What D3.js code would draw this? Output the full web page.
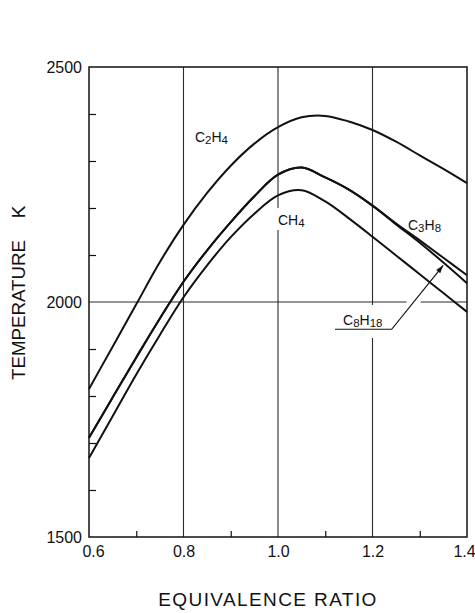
<!DOCTYPE html>
<html>
<head>
<meta charset="utf-8">
<script src="https://cdn.jsdelivr.net/npm/d3@7"></script>
<style>
  html, body { margin: 0; padding: 0; background: #fff; }
  svg { display: block; font-family: "Liberation Sans", Arial, sans-serif; }
</style>
</head>
<body>
<svg id="chart" width="475" height="613"></svg>
<script>
// Equivalence ratio sample points shared by every fuel curve
const phi = [0.60, 0.65, 0.70, 0.75, 0.80, 0.85, 0.90, 0.95, 1.00,
             1.05, 1.10, 1.15, 1.20, 1.25, 1.30, 1.35, 1.40];

// Adiabatic flame temperature (K) for each fuel
const tempC2H4  = [1815, 1905, 1995, 2085, 2164, 2232, 2290, 2337, 2372,
                   2393, 2396, 2384, 2366, 2341, 2312, 2283, 2253];
const tempC3H8  = [1711, 1797, 1882, 1965, 2043, 2110, 2170, 2225, 2271,
                   2286, 2265, 2239, 2205, 2167, 2131, 2094, 2057];
const tempC8H18 = [1711, 1797, 1882, 1965, 2043, 2110, 2170, 2225, 2271,
                   2286, 2265, 2239, 2205, 2165, 2126, 2084, 2040];
const tempCH4   = [1668, 1757, 1846, 1930, 2010, 2078, 2138, 2188, 2227,
                   2238, 2214, 2178, 2139, 2099, 2059, 2019, 1979];

// Axis ticks
const xLabelTicks = [0.6, 0.8, 1.0, 1.2, 1.4];
const xMinorTicks = [0.7, 0.9, 1.1, 1.3];
const xGrid       = [0.8, 1.0, 1.2];
const yLabelTicks = [1500, 2000, 2500];
const yMinorTicks = [1600, 1700, 1800, 1900, 2100, 2200, 2300, 2400];
const yGrid       = [2000];

const series = [
  { name: "C2H4",  values: tempC2H4 },
  { name: "C3H8",  values: tempC3H8 },
  { name: "C8H18", values: tempC8H18 },
  { name: "CH4",   values: tempCH4 }
];

const svg = d3.select("#chart");
const plotLeft = 89, plotRight = 467, plotTop = 67, plotBottom = 537;

const x = d3.scaleLinear().domain([0.6, 1.4]).range([plotLeft, plotRight]);
const y = d3.scaleLinear().domain([1500, 2500]).range([plotBottom, plotTop]);

const ink = "#111";

// Grid lines
svg.append("g").selectAll("line").data(xGrid).join("line")
  .attr("x1", d => x(d)).attr("x2", d => x(d))
  .attr("y1", plotTop).attr("y2", plotBottom)
  .attr("stroke", "#2a2a2a").attr("stroke-width", 1.1);
svg.append("g").selectAll("line").data(yGrid).join("line")
  .attr("x1", plotLeft).attr("x2", plotRight)
  .attr("y1", d => y(d)).attr("y2", d => y(d))
  .attr("stroke", "#2a2a2a").attr("stroke-width", 1.1);

// Minor ticks pointing inward
const xMinor = svg.append("g").attr("transform", `translate(0,${plotBottom})`)
  .call(d3.axisBottom(x).tickValues(xMinorTicks).tickSize(-6).tickFormat(""));
const yMinor = svg.append("g").attr("transform", `translate(${plotLeft},0)`)
  .call(d3.axisLeft(y).tickValues(yMinorTicks).tickSize(-7).tickFormat(""));
[xMinor, yMinor].forEach(g => {
  g.select(".domain").remove();
  g.selectAll(".tick line").attr("stroke", ink).attr("stroke-width", 1.2);
});

// Tick labels
const xLab = svg.append("g").attr("transform", `translate(0,${plotBottom})`)
  .call(d3.axisBottom(x).tickValues(xLabelTicks).tickSize(0).tickPadding(9)
        .tickFormat(d3.format(".1f")));
const yLab = svg.append("g").attr("transform", `translate(${plotLeft},0)`)
  .call(d3.axisLeft(y).tickValues(yLabelTicks).tickSize(0).tickPadding(7)
        .tickFormat(d3.format("d")));
[xLab, yLab].forEach(g => {
  g.select(".domain").remove();
  g.selectAll("text").attr("fill", ink).attr("font-size", 16)
    .attr("font-family", "Liberation Sans, Arial, sans-serif");
});
xLab.selectAll(".tick").filter(d => d === 0.6).select("text").attr("dx", 4);
xLab.selectAll(".tick").filter(d => d === 1.4).select("text").attr("dx", -3);

// Plot frame
svg.append("rect")
  .attr("x", plotLeft).attr("y", plotTop)
  .attr("width", plotRight - plotLeft).attr("height", plotBottom - plotTop)
  .attr("fill", "none").attr("stroke", ink).attr("stroke-width", 1.5);

// Temperature curves
const line = d3.line()
  .x((d, i) => x(phi[i]))
  .y(d => y(d))
  .curve(d3.curveCatmullRom.alpha(0.5));

svg.append("g").selectAll("path").data(series).join("path")
  .attr("d", d => line(d.values))
  .attr("fill", "none")
  .attr("stroke", ink)
  .attr("stroke-width", 2)
  .attr("stroke-linejoin", "round");

// Curve labels with subscripts
function chemLabel(g, parts, size) {
  const t = g.append("text").attr("fill", ink).attr("font-size", size);
  parts.forEach(p => {
    if (p.sub) {
      t.append("tspan").attr("font-size", size * 0.82).attr("dy", 2).text(p.s);
    } else {
      t.append("tspan").attr("dy", p.reset ? -2 : 0).text(p.s);
    }
  });
  return t;
}

const labels = svg.append("g");

// C2H4
chemLabel(labels.append("g").attr("transform", `translate(${x(0.8243)},${y(2340)})`),
  [{s: "C"}, {s: "2", sub: true}, {s: "H", reset: true}, {s: "4", sub: true}], 14);

// CH4, sitting on the 1.0 grid line
const ch4 = labels.append("g").attr("transform", `translate(${x(1.0)},${y(2164)})`);
ch4.append("rect").attr("x", -3).attr("y", -17).attr("width", 32).attr("height", 22).attr("fill", "#fff");
chemLabel(ch4, [{s: "CH"}, {s: "4", sub: true}], 14);

// C3H8
chemLabel(labels.append("g").attr("transform", `translate(${x(1.2751)},${y(2153)})`),
  [{s: "C"}, {s: "3", sub: true}, {s: "H", reset: true}, {s: "8", sub: true}], 14);

// C8H18 with leader arrow
const c8 = labels.append("g");
const c8x = x(1.1376), c8y = y(1951);
c8.append("rect").attr("x", c8x - 2).attr("y", c8y - 20).attr("width", 46).attr("height", 33).attr("fill", "#fff");
chemLabel(c8.append("g").attr("transform", `translate(${c8x},${c8y})`),
  [{s: "C"}, {s: "8", sub: true}, {s: "H", reset: true}, {s: "18", sub: true}], 14);

const leader = [[1.1206, 1942], [1.2406, 1942], [1.3497, 2078]];
const p0 = leader.map(d => [x(d[0]), y(d[1])]);
// gap in the 2000 K grid line where the leader crosses
const cross = p0[1][0] + (p0[2][0] - p0[1][0]) * (y(2000) - p0[1][1]) / (p0[2][1] - p0[1][1]);
c8.append("rect").attr("x", cross - 7).attr("y", y(2000) - 2).attr("width", 14).attr("height", 4).attr("fill", "#fff");
c8.append("path")
  .attr("d", d3.line()(p0))
  .attr("fill", "none").attr("stroke", ink).attr("stroke-width", 1.2);
// arrow head
const [ax, ay] = p0[2], [bx, by] = p0[1];
const ang = Math.atan2(ay - by, ax - bx);
const hl = 8, hw = 2.6;
const head = [
  [ax, ay],
  [ax - hl * Math.cos(ang) + hw * Math.sin(ang), ay - hl * Math.sin(ang) - hw * Math.cos(ang)],
  [ax - hl * Math.cos(ang) - hw * Math.sin(ang), ay - hl * Math.sin(ang) + hw * Math.cos(ang)]
];
c8.append("path").attr("d", d3.line()(head) + "Z").attr("fill", ink);

// Axis titles
svg.append("text")
  .attr("x", 268).attr("y", 606)
  .attr("text-anchor", "middle")
  .attr("font-size", 19).attr("letter-spacing", 1.4)
  .attr("fill", ink)
  .text("EQUIVALENCE RATIO");

svg.append("text")
  .attr("transform", "translate(25,310) rotate(-90)")
  .attr("text-anchor", "middle")
  .attr("font-size", 19)
  .attr("textLength", 140).attr("lengthAdjust", "spacingAndGlyphs")
  .attr("fill", ink)
  .text("TEMPERATURE");

svg.append("text")
  .attr("transform", "translate(25,212) rotate(-90)")
  .attr("text-anchor", "middle")
  .attr("font-size", 19)
  .attr("fill", ink)
  .text("K");
</script>
</body>
</html>
